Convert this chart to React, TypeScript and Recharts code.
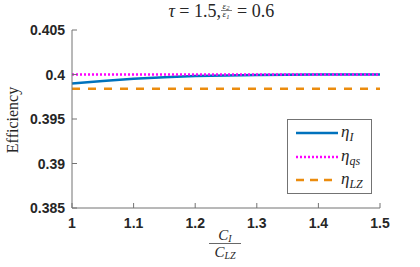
import { Legend, Line, LineChart, XAxis, YAxis } from "recharts";

// ratio C_I / C_LZ
const ratios = [1, 1.05, 1.1, 1.15, 1.2, 1.25, 1.3, 1.35, 1.4, 1.45, 1.5];
// efficiency curves
const etaI = [0.399, 0.39928, 0.39952, 0.3997, 0.39982, 0.3999, 0.39995, 0.39998, 0.4, 0.4, 0.4];
const etaQs = [0.4, 0.4, 0.4, 0.4, 0.4, 0.4, 0.4, 0.4, 0.4, 0.4, 0.4];
const etaLZ = [0.3984, 0.3984, 0.3984, 0.3984, 0.3984, 0.3984, 0.3984, 0.3984, 0.3984, 0.3984, 0.3984];

const xTicks = [1, 1.1, 1.2, 1.3, 1.4, 1.5];
const yTicks = [0.385, 0.39, 0.395, 0.4, 0.405];

const data = ratios.map((r, i) => ({ r, etaI: etaI[i], etaQs: etaQs[i], etaLZ: etaLZ[i] }));

const AXIS = "#737373";
const TXT = "#262626";
const tickFont = { fontFamily: "'Liberation Sans', Arial, sans-serif", fontWeight: 700, fontSize: 14 };
const serif = "'Liberation Serif', 'DejaVu Serif', serif";

function YTick(props: any) {
  const { x, y, payload } = props;
  return (
    <g>
      <line x1={x} x2={x + 5} y1={y} y2={y} stroke={AXIS} />
      <text x={x - 7} y={y + 5} textAnchor="end" fill={TXT} {...tickFont}>
        {String(payload.value)}
      </text>
    </g>
  );
}

function XTick(props: any) {
  const { x, y, payload } = props;
  return (
    <g>
      <line x1={x} x2={x} y1={y} y2={y - 5} stroke={AXIS} />
      <text x={x} y={y + 20} textAnchor="middle" fill={TXT} {...tickFont}>
        {String(payload.value)}
      </text>
    </g>
  );
}

function LegendBox() {
  const items = [
    { color: "#0072BD", dash: undefined, sub: "I", y: 14 },
    { color: "#FF00FF", dash: "2 2", sub: "qs", y: 38 },
    { color: "#EB8C0E", dash: "8 6", sub: "LZ", y: 61 },
  ];
  return (
    <svg width={85} height={75}>
      <rect x={0.5} y={0.5} width={84} height={74} fill="#fff" stroke={AXIS} />
      {items.map((it) => (
        <g key={it.sub}>
          <line x1={9} x2={51} y1={it.y} y2={it.y} stroke={it.color} strokeWidth={2.5} strokeDasharray={it.dash} />
          <text x={54} y={it.y + 4} fill={TXT} fontFamily={serif} fontStyle="italic" fontSize={17}>
            η<tspan fontSize={12} dy={4}>{it.sub}</tspan>
          </text>
        </g>
      ))}
    </svg>
  );
}

export default function App() {
  return (
    <div style={{ position: "absolute", left: 0, top: 0, background: "#fff" }}>
      <LineChart width={420} height={267} data={data} margin={{ top: 30, right: 40, bottom: 0, left: 0 }}>
        <XAxis
          dataKey="r"
          type="number"
          domain={[1, 1.5]}
          ticks={xTicks}
          interval={0}
          height={59}
          tickSize={0}
          tickMargin={0}
          tickLine={false}
          axisLine={{ stroke: AXIS }}
          tick={<XTick />}
        />
        <YAxis
          type="number"
          domain={[0.385, 0.405]}
          ticks={yTicks}
          interval={0}
          width={72}
          tickSize={0}
          tickMargin={0}
          tickLine={false}
          axisLine={{ stroke: AXIS }}
          tick={<YTick />}
        />
        <Line dataKey="etaI" stroke="#0072BD" strokeWidth={2.5} dot={false} isAnimationActive={false} />
        <Line dataKey="etaQs" stroke="#FF00FF" strokeWidth={2.5} strokeDasharray="2 2" dot={false} isAnimationActive={false} />
        <Line dataKey="etaLZ" stroke="#EB8C0E" strokeWidth={2.5} strokeDasharray="8 8" dot={false} isAnimationActive={false} />
        <Legend
          layout="vertical"
          align="center"
          verticalAlign="middle"
          wrapperStyle={{ position: "absolute", left: 287, top: 119, width: 85, height: 75 }}
          content={() => <LegendBox />}
        />
        {/* title */}
        <text x={221} y={17} textAnchor="end" fill={TXT} fontFamily={serif} fontSize={18}>
          <tspan fontStyle="italic">τ</tspan> = 1.5,
        </text>
        <text x={226} y={8.5} textAnchor="middle" fill={TXT} fontFamily={serif} fontStyle="italic" fontSize={9}>
          ε<tspan fontSize={6.5} dy={1.5}>2</tspan>
        </text>
        <line x1={221} x2={232} y1={10.5} y2={10.5} stroke={TXT} strokeWidth={0.6} />
        <text x={226} y={17} textAnchor="middle" fill={TXT} fontFamily={serif} fontStyle="italic" fontSize={9}>
          ε<tspan fontSize={6.5} dy={1.5}>1</tspan>
        </text>
        <text x={237} y={17} textAnchor="start" fill={TXT} fontFamily={serif} fontSize={18}>
          = 0.6
        </text>
        {/* y label */}
        <text x={0} y={0} transform="translate(18,120) rotate(-90)" textAnchor="middle" fill={TXT} fontFamily={serif} fontSize={16}>
          Efficiency
        </text>
        {/* x label */}
        <text x={225} y={240} textAnchor="middle" fill={TXT} fontFamily={serif} fontStyle="italic" fontSize={15}>
          C<tspan fontSize={10} dy={2}>I</tspan>
        </text>
        <line x1={209} x2={241} y1={243.5} y2={243.5} stroke={TXT} strokeWidth={0.7} />
        <text x={225} y={257} textAnchor="middle" fill={TXT} fontFamily={serif} fontStyle="italic" fontSize={15}>
          C<tspan fontSize={10} dy={2}>LZ</tspan>
        </text>
      </LineChart>
    </div>
  );
}
